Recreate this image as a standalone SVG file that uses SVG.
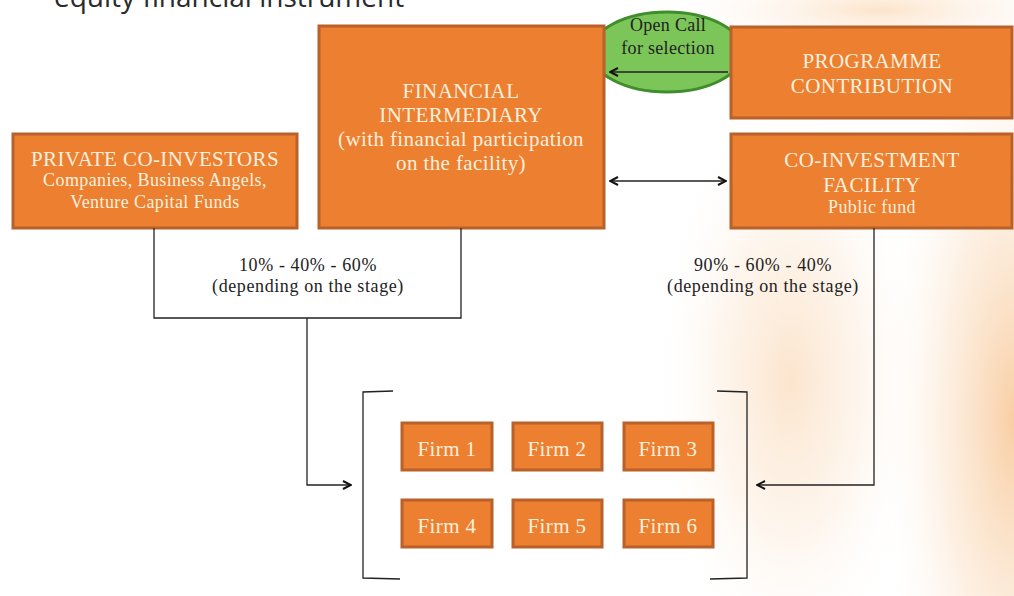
<svg xmlns="http://www.w3.org/2000/svg" width="1014" height="596" viewBox="0 0 1014 596">
<defs>
<radialGradient id="glow1" cx="790" cy="380" r="230" gradientUnits="userSpaceOnUse" gradientTransform="translate(790 380) scale(0.6 1.3) translate(-790 -380)">
<stop offset="0" stop-color="#F9D3AC" stop-opacity="0.6"/>
<stop offset="0.5" stop-color="#FBE2C8" stop-opacity="0.35"/>
<stop offset="1" stop-color="#FFFFFF" stop-opacity="0"/>
</radialGradient>
<radialGradient id="glow2" cx="1014" cy="420" r="200" gradientUnits="userSpaceOnUse" gradientTransform="translate(1014 420) scale(0.7 2.2) translate(-1014 -420)">
<stop offset="0" stop-color="#F6BE85" stop-opacity="0.75"/>
<stop offset="0.5" stop-color="#F9D3AC" stop-opacity="0.35"/>
<stop offset="1" stop-color="#FFFFFF" stop-opacity="0"/>
</radialGradient>
<radialGradient id="glow3" cx="880" cy="10" r="200" gradientUnits="userSpaceOnUse" gradientTransform="translate(880 10) scale(1.2 0.25) translate(-880 -10)">
<stop offset="0" stop-color="#FBDDBE" stop-opacity="0.8"/>
<stop offset="1" stop-color="#FFFFFF" stop-opacity="0"/>
</radialGradient>
<marker id="ah" viewBox="0 0 10 10" refX="9" refY="5" markerWidth="10" markerHeight="10" markerUnits="userSpaceOnUse" orient="auto-start-reverse">
<path d="M1,1 L9,5 L1,9" fill="none" stroke="#111" stroke-width="2"/>
</marker>
<style>
.box{fill:#EC7F30;stroke:#B8612A;stroke-width:3}
.t{font-family:"Liberation Serif","DejaVu Serif",serif;fill:#FCEFDD;text-anchor:middle;letter-spacing:0.4px}
.h{font-size:21px}
.s{font-size:18px}
.f{font-size:21px}
.lbl{font-family:"Liberation Serif","DejaVu Serif",serif;fill:#222;text-anchor:middle;font-size:18px;letter-spacing:0.6px}
.ln{fill:none;stroke:#222;stroke-width:1.3}
</style>
</defs>
<rect width="1014" height="596" fill="#FFFFFF"/>
<rect x="520" y="0" width="494" height="596" fill="url(#glow1)"/>
<rect x="700" y="0" width="314" height="596" fill="url(#glow2)"/>
<rect x="600" y="0" width="414" height="80" fill="url(#glow3)"/>
<text x="54" y="7" font-family="'Open Sans',sans-serif" font-size="28" fill="#2a2a2a">equity financial instrument</text>

<g id="open-call">
<ellipse cx="667" cy="52" rx="76" ry="40" fill="#7CC559" stroke="#3E8E2B" stroke-width="3"/>
<text x="668" y="31" class="lbl" style="font-size:18px;letter-spacing:0.3px">Open Call</text>
<text x="668" y="54" class="lbl" style="font-size:18px;letter-spacing:0.3px">for selection</text>
</g>

<g id="financial-intermediary">
<rect class="box" x="319" y="26" width="285" height="202"/>
<text class="t h" x="461" y="98">FINANCIAL</text>
<text class="t h" x="461" y="122">INTERMEDIARY</text>
<text class="t h" x="461" y="146">(with financial participation</text>
<text class="t h" x="461" y="170">on the facility)</text>
</g>

<g id="programme-contribution">
<rect class="box" x="731" y="27" width="281" height="91"/>
<text class="t h" x="872" y="68">PROGRAMME</text>
<text class="t h" x="872" y="93">CONTRIBUTION</text>
</g>

<g id="private-co-investors">
<rect class="box" x="13" y="134" width="284" height="94"/>
<text class="t h" x="155" y="166">PRIVATE CO-INVESTORS</text>
<text class="t s" x="155" y="186">Companies, Business Angels,</text>
<text class="t s" x="155" y="208">Venture Capital Funds</text>
</g>

<g id="co-investment-facility">
<rect class="box" x="731" y="134" width="281" height="94"/>
<text class="t h" x="872" y="167">CO-INVESTMENT</text>
<text class="t h" x="872" y="192">FACILITY</text>
<text class="t s" x="872" y="213">Public fund</text>
</g>

<g id="firms">
<g id="firm-1"><rect class="box" x="402" y="423" width="90" height="47"/><text class="t f" x="447" y="456">Firm 1</text></g>
<g id="firm-2"><rect class="box" x="513" y="423" width="89" height="47"/><text class="t f" x="557" y="456">Firm 2</text></g>
<g id="firm-3"><rect class="box" x="624" y="423" width="89" height="47"/><text class="t f" x="668" y="456">Firm 3</text></g>
<g id="firm-4"><rect class="box" x="402" y="500" width="90" height="47"/><text class="t f" x="447" y="533">Firm 4</text></g>
<g id="firm-5"><rect class="box" x="513" y="500" width="89" height="47"/><text class="t f" x="557" y="533">Firm 5</text></g>
<g id="firm-6"><rect class="box" x="624" y="500" width="89" height="47"/><text class="t f" x="668" y="533">Firm 6</text></g>
</g>

<g id="brackets">
<path class="ln" d="M393,391 L363,392 L363,578 L400,579"/>
<path class="ln" d="M717,391 L747,392 L747,578 L710,579"/>
</g>

<g id="connectors">
<path class="ln" d="M728,72 L610,72" marker-end="url(#ah)"/>
<path class="ln" d="M610,181 L726,181" marker-start="url(#ah)" marker-end="url(#ah)"/>
<path class="ln" d="M154,228 L154,318 L461,318 L461,228"/>
<path class="ln" d="M307,318 L307,485 L351,485" marker-end="url(#ah)"/>
<path class="ln" d="M874,228 L874,485 L757,485" marker-end="url(#ah)"/>
</g>

<g id="labels">
<text class="lbl" x="308" y="271">10% - 40% - 60%</text>
<text class="lbl" x="308" y="292">(depending on the stage)</text>
<text class="lbl" x="763" y="271">90% - 60% - 40%</text>
<text class="lbl" x="763" y="292">(depending on the stage)</text>
</g>
</svg>
